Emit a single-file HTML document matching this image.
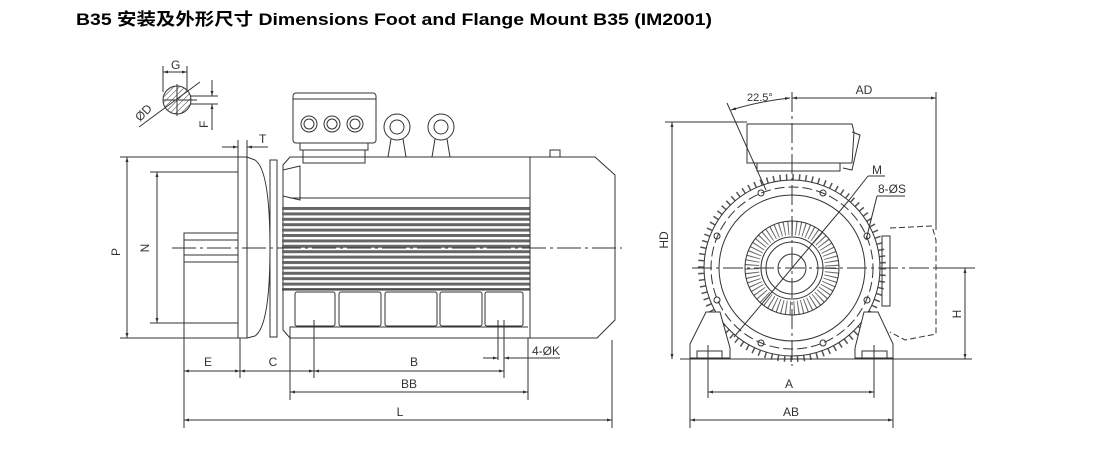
<!DOCTYPE html>
<html><head><meta charset="utf-8"><style>
html,body{margin:0;padding:0;background:#fff;}
svg{display:block;}
text{font-family:"Liberation Sans","Noto Sans CJK SC",sans-serif;fill:#333;}
</style></head><body>
<svg width="1114" height="458" viewBox="0 0 1114 458" xmlns="http://www.w3.org/2000/svg">
<defs>
<pattern id="fins" x="0" y="207" width="10" height="5.4" patternUnits="userSpaceOnUse">
<rect x="0" y="0" width="10" height="3" fill="#666"/>
</pattern>
<pattern id="hatch" width="4" height="4" patternUnits="userSpaceOnUse" patternTransform="rotate(45)">
<line x1="0" y1="0" x2="0" y2="4" stroke="#333" stroke-width="1"/>
</pattern>
<marker id="ar" viewBox="0 0 10 10" refX="10" refY="5" markerWidth="7" markerHeight="5" orient="auto-start-reverse"><path d="M0,2 L10,5 L0,8 z" fill="#333"/></marker>
</defs>
<text x="76" y="25" font-size="17" font-weight="bold" textLength="636" lengthAdjust="spacingAndGlyphs" style="fill:#000">B35 安装及外形尺寸  Dimensions Foot and Flange Mount B35 (IM2001)</text>

<g stroke="#333" stroke-width="1" fill="none">
<circle cx="177" cy="100" r="14" fill="url(#hatch)"/>
<line x1="163" y1="100" x2="197" y2="100"/><line x1="177" y1="84" x2="177" y2="116"/>
<line x1="163" y1="66" x2="163" y2="92"/><line x1="187" y1="66" x2="187" y2="90"/>
<line x1="163" y1="72" x2="187" y2="72" marker-start="url(#ar)" marker-end="url(#ar)"/>
<line x1="139" y1="127" x2="200" y2="82"/>
<line x1="190" y1="96" x2="218" y2="96"/><line x1="190" y1="104" x2="218" y2="104"/>
<line x1="212" y1="80" x2="212" y2="96" marker-end="url(#ar)"/><line x1="212" y1="130" x2="212" y2="104" marker-end="url(#ar)"/>

<line x1="238" y1="140" x2="238" y2="157"/><line x1="247" y1="140" x2="247" y2="157"/>
<line x1="222" y1="147" x2="238" y2="147" marker-end="url(#ar)"/><line x1="268" y1="147" x2="247" y2="147" marker-end="url(#ar)"/>

<rect x="293" y="93" width="83" height="50" rx="3"/>
<line x1="293" y1="99" x2="376" y2="99"/>
<rect x="300" y="143" width="68" height="7"/><rect x="303" y="150" width="62" height="13"/>
<circle cx="309" cy="124" r="8"/><circle cx="309" cy="124" r="5"/>
<circle cx="332" cy="124" r="8"/><circle cx="332" cy="124" r="5"/>
<circle cx="355" cy="124" r="8"/><circle cx="355" cy="124" r="5"/>
<circle cx="397" cy="127" r="13"/><circle cx="397" cy="127" r="7"/>
<path d="M391,139 L388,157 M403,139 L406,157"/>
<circle cx="441" cy="127" r="13"/><circle cx="441" cy="127" r="7"/>
<path d="M435,139 L432,157 M447,139 L450,157"/>

<rect x="238" y="157" width="9" height="181"/>
<path d="M247,157 L255,160 Q270,170 270,248 Q270,326 255,336 L247,338"/>
<rect x="270" y="160" width="7" height="177"/>
<rect x="184" y="233" width="54" height="29"/>
<line x1="184" y1="240" x2="238" y2="240"/><line x1="184" y1="255" x2="238" y2="255"/>
<path d="M283,165 L290,157 L530,157 L530,338 L290,338 L283,330 Z"/>
<path d="M283,170 L300,166 L300,200 L283,196"/>
<line x1="290" y1="198" x2="530" y2="198"/>
<rect x="282" y="205" width="248" height="85" fill="url(#fins)" stroke="none"/>
<line x1="282" y1="290" x2="530" y2="290"/>
<rect x="295" y="292" width="40" height="34" rx="2"/><rect x="339" y="292" width="42" height="34" rx="2"/>
<rect x="385" y="292" width="52" height="34" rx="2"/><rect x="440" y="292" width="42" height="34" rx="2"/>
<rect x="485" y="292" width="38" height="34" rx="2"/>
<path d="M290,338 L290,327 L528,327"/>
<path d="M530,157 L595,157 L615,175 L615,320 L597,338 L530,338 Z"/>
<rect x="550" y="150" width="10" height="7"/>

<line x1="172" y1="248" x2="622" y2="248" stroke-dasharray="24 4 3 4"/>

<line x1="120" y1="157" x2="238" y2="157"/><line x1="120" y1="338" x2="238" y2="338"/>
<line x1="127" y1="157" x2="127" y2="338" marker-start="url(#ar)" marker-end="url(#ar)"/>
<line x1="150" y1="172" x2="238" y2="172"/><line x1="150" y1="323" x2="238" y2="323"/>
<line x1="157" y1="172" x2="157" y2="323" marker-start="url(#ar)" marker-end="url(#ar)"/>

<line x1="184" y1="262" x2="184" y2="428"/>
<line x1="240" y1="338" x2="240" y2="378"/>
<line x1="314" y1="320" x2="314" y2="378"/>
<line x1="504" y1="320" x2="504" y2="378"/>
<line x1="498" y1="320" x2="498" y2="360"/>
<line x1="290" y1="338" x2="290" y2="400"/><line x1="528" y1="338" x2="528" y2="400"/>
<line x1="612" y1="340" x2="612" y2="428"/>
<line x1="184" y1="371" x2="240" y2="371" marker-start="url(#ar)" marker-end="url(#ar)"/>
<line x1="240" y1="371" x2="314" y2="371" marker-start="url(#ar)" marker-end="url(#ar)"/>
<line x1="314" y1="371" x2="504" y2="371" marker-start="url(#ar)" marker-end="url(#ar)"/>
<line x1="290" y1="392" x2="528" y2="392" marker-start="url(#ar)" marker-end="url(#ar)"/>
<line x1="184" y1="420" x2="612" y2="420" marker-start="url(#ar)" marker-end="url(#ar)"/>
<line x1="483" y1="358" x2="498" y2="358" marker-end="url(#ar)"/><line x1="560" y1="358" x2="504" y2="358" marker-end="url(#ar)"/>

<circle cx="792" cy="268" r="91" stroke="#555" stroke-width="6" stroke-dasharray="1.5 5"/>
<circle cx="792" cy="268" r="88"/>
<circle cx="792" cy="268" r="81" stroke-dasharray="10 4"/>
<circle cx="792" cy="268" r="73"/>
<circle cx="792" cy="268" r="40" stroke="#666" stroke-width="14" stroke-dasharray="1 3"/>
<circle cx="792" cy="268" r="47"/>
<circle cx="792" cy="268" r="31" fill="#fff"/><circle cx="792" cy="268" r="26"/>
<circle cx="792" cy="268" r="14"/>
<circle cx="761" cy="193" r="3"/><circle cx="823" cy="193" r="3"/>
<circle cx="717" cy="236" r="3"/><circle cx="867" cy="236" r="3"/>
<circle cx="717" cy="300" r="3"/><circle cx="867" cy="300" r="3"/>
<circle cx="761" cy="343" r="3"/><circle cx="823" cy="343" r="3"/>
<path d="M747,124 L852,124 L854,132 L852,163 L747,163 Z" fill="#fff"/>
<rect x="757" y="163" width="83" height="8"/>
<path d="M852,132 L860,135 L852,170 L843,168"/>
<path d="M690,358 L690,344 L706,312 L720,312 L730,348 L730,358 Z" fill="#fff"/>
<path d="M893,358 L893,344 L878,312 L864,312 L855,348 L855,358 Z" fill="#fff"/>
<rect x="697" y="351" width="25" height="7"/><rect x="862" y="351" width="25" height="7"/>
<line x1="680" y1="359" x2="905" y2="359"/>
<path d="M890,228 L932,226 L936,240 L936,334 L905,340 L890,332" stroke-dasharray="6 3"/>
<rect x="882" y="236" width="8" height="70"/>
<line x1="692" y1="268" x2="975" y2="268" stroke-dasharray="20 4 3 4"/>
<line x1="792" y1="92" x2="792" y2="366" stroke-dasharray="20 4 3 4"/>
<line x1="734" y1="337" x2="850" y2="199"/>
<line x1="727" y1="103" x2="766" y2="190"/>
<line x1="665" y1="122" x2="747" y2="122"/>
<line x1="672" y1="122" x2="672" y2="359" marker-start="url(#ar)" marker-end="url(#ar)"/>
<line x1="792" y1="98" x2="936" y2="98" marker-start="url(#ar)" marker-end="url(#ar)"/>
<line x1="936" y1="92" x2="936" y2="230"/>
<path d="M731,110 Q760,101 790,98" marker-start="url(#ar)" marker-end="url(#ar)"/>
<line x1="936" y1="268" x2="972" y2="268"/>
<line x1="905" y1="359" x2="972" y2="359"/>
<line x1="965" y1="268" x2="965" y2="359" marker-start="url(#ar)" marker-end="url(#ar)"/>
<line x1="708" y1="345" x2="708" y2="398"/><line x1="874" y1="345" x2="874" y2="398"/>
<line x1="690" y1="358" x2="690" y2="428"/><line x1="893" y1="358" x2="893" y2="428"/>
<line x1="708" y1="392" x2="874" y2="392" marker-start="url(#ar)" marker-end="url(#ar)"/>
<line x1="690" y1="420" x2="893" y2="420" marker-start="url(#ar)" marker-end="url(#ar)"/>
<line x1="850" y1="199" x2="868" y2="176"/><line x1="868" y1="176" x2="885" y2="176"/>
<line x1="866" y1="240" x2="877" y2="196"/><line x1="877" y1="196" x2="905" y2="196"/>
</g>

<g font-size="12">
<text x="171" y="69">G</text>
<text x="140" y="122" transform="rotate(-45 140 122)">ØD</text>
<text x="208" y="128" transform="rotate(-90 208 128)">F</text>
<text x="259" y="143">T</text>
<text x="120" y="252" transform="rotate(-90 120 252)" text-anchor="middle">P</text>
<text x="149" y="248" transform="rotate(-90 149 248)" text-anchor="middle">N</text>
<text x="208" y="366" text-anchor="middle">E</text>
<text x="273" y="366" text-anchor="middle">C</text>
<text x="414" y="366" text-anchor="middle">B</text>
<text x="409" y="388" text-anchor="middle">BB</text>
<text x="400" y="416" text-anchor="middle">L</text>
<text x="532" y="355">4-ØK</text>
<text x="747" y="101" font-size="11">22.5°</text>
<text x="864" y="94" text-anchor="middle">AD</text>
<text x="668" y="240" transform="rotate(-90 668 240)" text-anchor="middle">HD</text>
<text x="961" y="314" transform="rotate(-90 961 314)" text-anchor="middle">H</text>
<text x="789" y="388" text-anchor="middle">A</text>
<text x="791" y="416" text-anchor="middle">AB</text>
<text x="872" y="174">M</text>
<text x="878" y="193">8-ØS</text>
</g>
</svg>
</body></html>
